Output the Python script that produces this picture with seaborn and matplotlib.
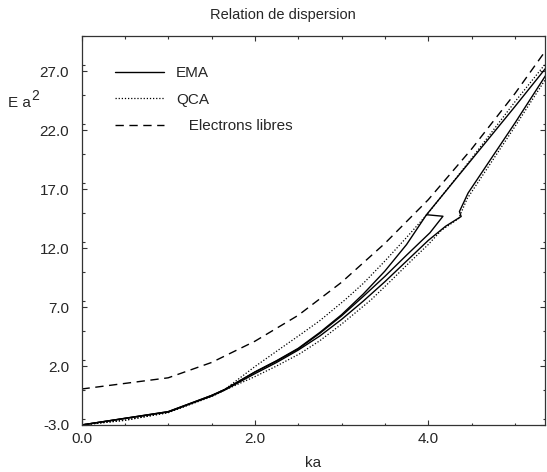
import numpy as np
import pandas as pd
import matplotlib
matplotlib.use('Agg')
import matplotlib.pyplot as plt
import seaborn as sns
from matplotlib.ticker import MultipleLocator, FormatStrFormatter

# EMA branches
ema_up_k = [0.0, 1.0, 1.5, 1.65, 2.0, 2.25, 2.5, 2.75, 3.0, 3.25, 3.5, 3.75, 3.98, 4.5, 5.0, 5.36]
ema_up_e = [-3.0, -1.87, -0.5, 0.0, 1.5, 2.45, 3.5, 4.85, 6.35, 8.1, 10.05, 12.3, 14.83, 19.5, 24.0, 27.3]

ema_mid_k = [0.0, 1.0, 1.5, 1.65, 2.0, 2.25, 2.5, 2.75, 3.0, 3.25, 3.5, 3.75, 4.02, 4.17, 3.98]
ema_mid_e = [-3.0, -1.87, -0.5, 0.0, 1.48, 2.42, 3.45, 4.78, 6.25, 7.9, 9.6, 11.4, 13.3, 14.7, 14.83]

ema_low_k = [0.0, 0.5, 1.0, 1.5, 1.65, 2.0, 2.25, 2.5, 2.75, 3.0, 3.25, 3.5, 3.75, 4.0, 4.2, 4.38, 4.36, 4.46, 5.0, 5.36]
ema_low_e = [-3.0, -2.45, -1.9, -0.55, -0.05, 1.35, 2.3, 3.35, 4.55, 5.95, 7.5, 9.15, 10.9, 12.65, 13.85, 14.68, 15.1, 16.67, 22.6, 26.7]

# QCA branches
qca_up_k = [0.0, 0.5, 1.0, 1.5, 1.65, 2.0, 2.25, 2.52, 2.75, 3.04, 3.25, 3.5, 3.75, 4.0, 4.5, 5.0, 5.36]
qca_up_e = [-3.0, -2.6, -1.95, -0.5, 0.0, 1.95, 3.25, 4.64, 5.85, 7.61, 9.0, 10.9, 12.9, 14.97, 19.6, 24.4, 27.7]

qca_low_k = [0.0, 0.5, 1.0, 1.5, 1.65, 2.0, 2.25, 2.52, 2.75, 3.0, 3.34, 3.58, 3.8, 4.0, 4.15, 4.35, 4.45, 5.0, 5.36]
qca_low_e = [-3.0, -2.6, -1.95, -0.6, -0.05, 1.1, 2.0, 3.05, 4.15, 5.55, 7.61, 9.31, 10.9, 12.3, 13.5, 14.5, 16.2, 22.3, 26.4]

# free electrons
free_k = [0.0, 1.0, 1.5, 2.0, 2.5, 3.0, 3.5, 4.0, 4.5, 5.0, 5.36]
free_e = [0.05, 1.0, 2.3, 4.1, 6.3, 9.1, 12.4, 16.1, 20.4, 25.1, 28.8]

sns.set_style('ticks')
plt.rcParams['font.family'] = ['Liberation Sans', 'DejaVu Sans']

fig = plt.figure(figsize=(5.47, 4.72), dpi=100)
ax = fig.add_axes([0.149, 0.0996, 0.847, 0.8245])

line_kw = dict(color='black', sort=False, estimator=None)
sns.lineplot(x=ema_up_k, y=ema_up_e, ax=ax, lw=1.0, label='EMA', **line_kw)
sns.lineplot(x=ema_mid_k, y=ema_mid_e, ax=ax, lw=1.0, **line_kw)
sns.lineplot(x=ema_low_k, y=ema_low_e, ax=ax, lw=1.0, **line_kw)
sns.lineplot(x=qca_up_k, y=qca_up_e, ax=ax, lw=0.9, linestyle=(0, (1, 1.5)), label='QCA', **line_kw)
sns.lineplot(x=qca_low_k, y=qca_low_e, ax=ax, lw=0.9, linestyle=(0, (1, 1.5)), **line_kw)
sns.lineplot(x=free_k, y=free_e, ax=ax, lw=1.0, linestyle=(0, (6, 4)), label='   Electrons libres', **line_kw)

ax.set_xlim(0, 5.345)
ax.set_ylim(-3, 30)
ax.xaxis.set_major_locator(MultipleLocator(2.0))
ax.xaxis.set_minor_locator(MultipleLocator(0.5))
ax.set_yticks(np.arange(-3, 28, 5))
ax.yaxis.set_minor_locator(MultipleLocator(2.5))
ax.xaxis.set_major_formatter(FormatStrFormatter('%.1f'))
ax.yaxis.set_major_formatter(FormatStrFormatter('%.1f'))
ax.tick_params(which='both', direction='in', top=True, right=True, labelsize=11, color='#333333')
ax.tick_params(which='major', length=3.6, width=0.8)
ax.tick_params(which='minor', length=1.8, width=0.8)
ax.tick_params(axis='y', which='major', pad=9)
ax.tick_params(axis='x', which='major', pad=5)
for s in ax.spines.values():
    s.set_linewidth(0.9)
    s.set_color('#333333')

fig.text(0.518, 1 - 15 / 472, 'Relation de dispersion', fontsize=10.5, ha='center', va='center')
ax.set_xlabel('ka', fontsize=11, labelpad=7.5)
ax.set_ylabel('')
# y label drawn by hand: "E a" with a raised "2"
fig.text(8 / 547, 1 - 107 / 472, 'E a', fontsize=11, ha='left', va='baseline')
fig.text(31.5 / 547, 1 - 100 / 472, '2', fontsize=10, ha='left', va='baseline')

leg = ax.legend(loc='upper left', bbox_to_anchor=(0.072, 0.922), frameon=False,
                fontsize=11, handlelength=3.2, handletextpad=0.8,
                labelspacing=0.82, borderpad=0, borderaxespad=0)

fig.savefig('out.png', dpi=100)
